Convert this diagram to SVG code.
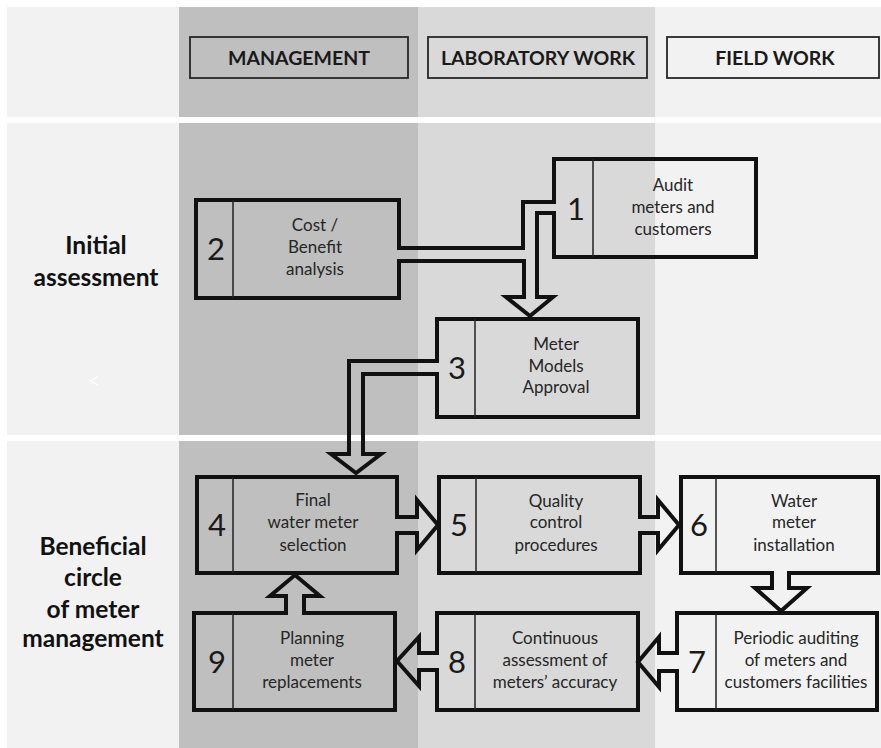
<svg xmlns="http://www.w3.org/2000/svg" width="881" height="748" viewBox="0 0 881 748">
<defs>
<style>
.hdr{fill:none;stroke:#262626;stroke-width:1.8}
.hdrt{font-family:Lato,"Open Sans","Liberation Sans",sans-serif;font-weight:bold;font-size:19.5px;fill:#1a1a1a;text-anchor:middle}
.lbl{font-family:Lato,"Open Sans","Liberation Sans",sans-serif;font-weight:bold;font-size:24.5px;fill:#111;text-anchor:middle}
.box{fill:none;stroke:#111;stroke-width:4;stroke-linejoin:miter;stroke-linecap:square}
.div{stroke:#222;stroke-width:1.5}
.num{font-family:Lato,"Open Sans","Liberation Sans",sans-serif;font-size:31px;fill:#1a1a1a;text-anchor:middle}
.txt{font-family:Lato,"Open Sans","Liberation Sans",sans-serif;font-size:17px;fill:#262626;text-anchor:middle}
.con{fill:none;stroke:#111;stroke-width:4;stroke-linejoin:miter;stroke-linecap:square}
</style>
</defs>
<rect x="0" y="0" width="881" height="748" fill="#ffffff"/>
<g id="background">
<rect x="7" y="7" width="172" height="741" fill="#f2f2f2"/>
<rect x="179" y="7" width="239" height="741" fill="#bfbfbf"/>
<rect x="418" y="7" width="237" height="741" fill="#d9d9d9"/>
<rect x="655" y="7" width="226" height="741" fill="#f2f2f2"/>
<rect x="7" y="117" width="874" height="6" fill="#ffffff"/>
<rect x="7" y="435" width="874" height="6" fill="#ffffff"/>
</g>
<g id="headers">
<rect class="hdr" x="190" y="37" width="218" height="41"/>
<text class="hdrt" x="299" y="65">MANAGEMENT</text>
<rect class="hdr" x="428" y="37" width="219" height="41"/>
<text class="hdrt" x="538" y="65">LABORATORY WORK</text>
<rect class="hdr" x="667" y="37" width="212" height="41"/>
<text class="hdrt" x="775" y="65">FIELD WORK</text>
</g>
<g id="row-labels">
<text class="lbl" x="96" y="254">Initial</text>
<text class="lbl" x="96" y="286">assessment</text>
<text x="94" y="388" font-family="Lato,'Open Sans',sans-serif" font-size="22" font-weight="300" fill="#ffffff" text-anchor="middle">&lt;</text>
<text class="lbl" x="93" y="555">Beneficial</text>
<text class="lbl" x="93" y="586">circle</text>
<text class="lbl" x="93" y="618">of meter</text>
<text class="lbl" x="93" y="647">management</text>
</g>
<g id="node1">
<path class="box" d="M554,213 V257 H756 V159 H554 V202"/>
<line class="div" x1="593" y1="159" x2="593" y2="257"/>
<text class="num" x="576" y="220">1</text>
<text class="txt" x="673" y="191">Audit</text>
<text class="txt" x="673" y="213">meters and</text>
<text class="txt" x="673" y="235">customers</text>
</g>
<g id="node2">
<path class="box" d="M399,261 V298 H196 V200 H399 V248"/>
<line class="div" x1="233" y1="200" x2="233" y2="298"/>
<text class="num" x="216" y="260">2</text>
<text class="txt" x="315" y="231">Cost /</text>
<text class="txt" x="315" y="253">Benefit</text>
<text class="txt" x="315" y="275">analysis</text>
</g>
<g id="node3">
<path class="box" d="M437,374 V417 H638 V319 H437 V361"/>
<line class="div" x1="475" y1="319" x2="475" y2="417"/>
<text class="num" x="457" y="379">3</text>
<text class="txt" x="556" y="350">Meter</text>
<text class="txt" x="556" y="372">Models</text>
<text class="txt" x="556" y="393">Approval</text>
</g>
<g id="node4">
<path class="box" d="M397,533 V573 H197 V477 H397 V517"/>
<line class="div" x1="233" y1="477" x2="233" y2="573"/>
<text class="num" x="217" y="536">4</text>
<text class="txt" x="313" y="506">Final</text>
<text class="txt" x="313" y="528">water meter</text>
<text class="txt" x="313" y="551">selection</text>
</g>
<g id="node5">
<path class="box" d="M640,533 V573 H439 V477 H640 V517"/>
<line class="div" x1="476" y1="477" x2="476" y2="573"/>
<text class="num" x="459" y="536">5</text>
<text class="txt" x="556" y="507">Quality</text>
<text class="txt" x="556" y="528">control</text>
<text class="txt" x="556" y="551">procedures</text>
</g>
<g id="node6">
<path class="box" d="M789,573 H878 V477 H681 V573 H772"/>
<line class="div" x1="716" y1="477" x2="716" y2="573"/>
<text class="num" x="699" y="536">6</text>
<text class="txt" x="794" y="507">Water</text>
<text class="txt" x="794" y="528">meter</text>
<text class="txt" x="794" y="551">installation</text>
</g>
<g id="node7">
<path class="box" d="M677,671 V710 H877 V613 H677 V653"/>
<line class="div" x1="716" y1="613" x2="716" y2="710"/>
<text class="num" x="697" y="673">7</text>
<text class="txt" x="796" y="644">Periodic auditing</text>
<text class="txt" x="796" y="666">of meters and</text>
<text class="txt" x="796" y="688">customers facilities</text>
</g>
<g id="node8">
<path class="box" d="M437,670 V710 H638 V613 H437 V653"/>
<line class="div" x1="475" y1="613" x2="475" y2="710"/>
<text class="num" x="457" y="673">8</text>
<text class="txt" x="555" y="644">Continuous</text>
<text class="txt" x="555" y="666">assessment of</text>
<text class="txt" x="555" y="688">meters’ accuracy</text>
</g>
<g id="node9">
<path class="box" d="M304,613 H395 V710 H194 V613 H286"/>
<line class="div" x1="233" y1="613" x2="233" y2="710"/>
<text class="num" x="217" y="673">9</text>
<text class="txt" x="312" y="644">Planning</text>
<text class="txt" x="312" y="666">meter</text>
<text class="txt" x="312" y="688">replacements</text>
</g>
<g id="connectors">
<path class="con" d="M399,248 H523 V202 H554"/>
<path class="con" d="M399,261 H524 V297 H506 L530,316 L553,297 H537 V213 H554"/>
<path class="con" d="M437,361 H349 V454 H331 L356,473 L381,454 H363 V374 H437"/>
<path class="con" d="M397,517 H417 V500 L438,525 L417,550 V533 H397"/>
<path class="con" d="M640,517 H658 V500 L679,525 L658,550 V533 H640"/>
<path class="con" d="M772,573 V588 H755 L781,611 L807,588 H789 V573"/>
<path class="con" d="M677,653 H659 V637 L638,662 L659,687 V671 H677"/>
<path class="con" d="M437,653 H419 V637 L397,661 L419,686 V670 H437"/>
<path class="con" d="M286,613 V596 H270 L295,575 L320,596 H304 V613"/>
</g>
</svg>
